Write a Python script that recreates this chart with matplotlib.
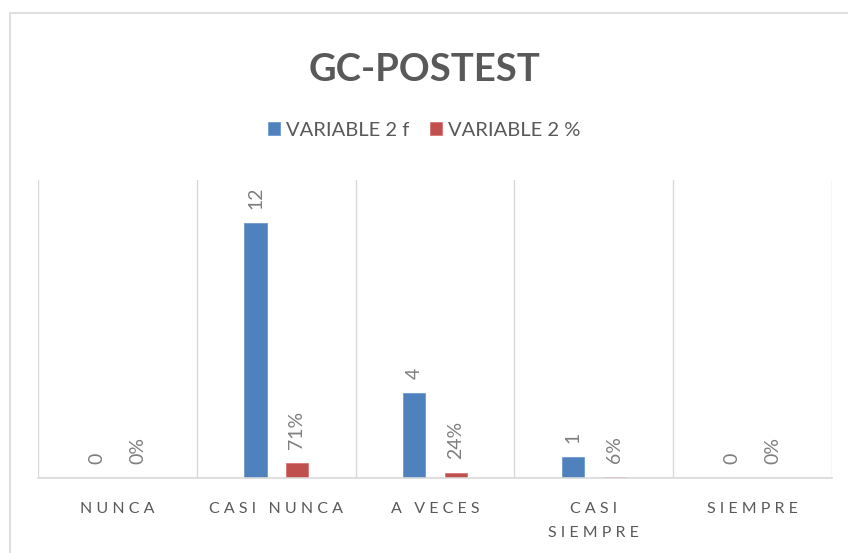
import matplotlib
matplotlib.use("Agg")
import matplotlib.pyplot as plt
import numpy as np
from matplotlib.patches import Rectangle

categories = ["NUNCA", "CASI NUNCA", "A VECES", "CASI\nSIEMPRE", "SIEMPRE"]
freq = [0, 12, 4, 1, 0]
pct = [0.0, 0.71, 0.24, 0.06, 0.0]
series_names = ["VARIABLE 2 f", "VARIABLE 2 %"]
title = "GC-POSTEST"

plt.rcParams['font.family'] = ['Lato', 'DejaVu Sans']

fig = plt.figure(figsize=(8.48, 5.53), dpi=100)
# outer chart frame
fig.patches.append(Rectangle((10/848, -0.05), 1.0, 1 - 13/553 + 0.05,
                             transform=fig.transFigure, fill=False,
                             edgecolor="#d9d9d9", linewidth=1.2))

ax = fig.add_axes([38/848, 1 - 478/553, (832-38)/848, (478-180)/553])
x = np.arange(len(categories))
w = 0.14
off = 0.13
blue = "#4F81BD"
red = "#C0504D"
b1 = ax.bar(x - off, freq, w, color=blue, edgecolor="#6f9bd1", linewidth=0.6, label=series_names[0])
b2 = ax.bar(x + off, pct, w, color=red, edgecolor="#d87775", linewidth=0.6, label=series_names[1])

ax.set_xlim(-0.5, len(categories) - 0.5)
ax.set_ylim(0, 14)
ax.set_yticks([])
for s in ["top", "right", "left"]:
    ax.spines[s].set_visible(False)
ax.spines["bottom"].set_color("#d9d9d9")
ax.spines["bottom"].set_linewidth(1.2)
for b in np.arange(-0.5, len(categories), 1.0):
    ax.axvline(b, color="#d9d9d9", linewidth=1.0, zorder=0)

def spaced(s):
    return "\n".join(" ".join(list(line)) for line in s.split("\n"))

ax.set_xticks(x)
ax.set_xticklabels([spaced(c) for c in categories], fontsize=11.5, color="#595959", linespacing=1.9)
ax.tick_params(axis="x", length=0, pad=17)

for rect, v in zip(b1, freq):
    ax.annotate(f"{v}", (rect.get_x() + rect.get_width()/2, rect.get_height()),
                xytext=(0, 10), textcoords="offset points", rotation=90,
                ha="center", va="bottom", fontsize=14, color="#7f7f7f")
for rect, v in zip(b2, pct):
    ax.annotate(f"{v*100:.0f}%", (rect.get_x() + rect.get_width()/2, rect.get_height()),
                xytext=(0, 10), textcoords="offset points", rotation=90,
                ha="center", va="bottom", fontsize=14, color="#7f7f7f")

fig.text(0.5, 1 - 70/553, title, ha="center", va="center", fontsize=27.5,
         fontweight="bold", color="#595959")
fig.legend(handles=[b1, b2], labels=series_names, loc="center",
           bbox_to_anchor=(0.5, 1 - 130/553), ncol=2, frameon=False,
           fontsize=14.5, labelcolor="#595959", handlelength=0.6, handleheight=0.6,
           handletextpad=0.3, columnspacing=1.0)

fig.savefig("out.png", dpi=100)
